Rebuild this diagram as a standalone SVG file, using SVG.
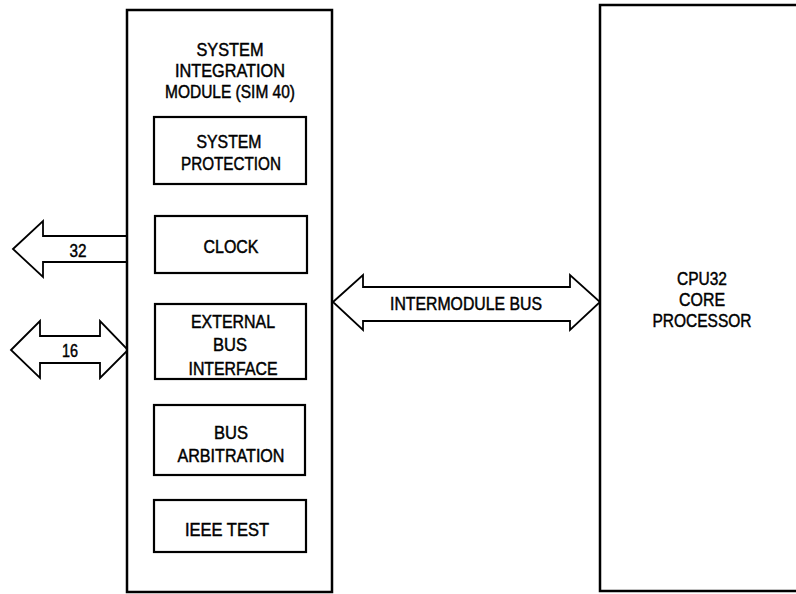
<svg xmlns="http://www.w3.org/2000/svg" width="796" height="594" viewBox="0 0 796 594">
<style>
  .box { fill: #fff; stroke: #000; stroke-width: 2.5; }
  .inner { fill: #fff; stroke: #000; stroke-width: 2.2; }
  .arrow { fill: #fff; stroke: #000; stroke-width: 1.8; stroke-linejoin: miter; }
  text { font-family: "Liberation Sans", Arial, sans-serif; font-size: 17.5px; fill: #000; stroke: #000; stroke-width: 0.45; text-anchor: middle; }
</style>
<rect width="796" height="594" fill="#fff"/>
<g id="connectors">
  <polygon class="arrow" points="13,249 43,221 43,236 127,236 127,262 43,262 43,277"/>
  <polygon class="arrow" points="11,350 40,321 40,336 100,336 100,321 128,350 100,378 100,363 40,363 40,378"/>
  <polygon class="arrow" points="333,302 363,275 363,287 570,287 570,275 600,302 570,330 570,321 363,321 363,330"/>
  <text x="78" y="257" textLength="17" lengthAdjust="spacingAndGlyphs">32</text>
  <text x="70" y="357" textLength="16" lengthAdjust="spacingAndGlyphs">16</text>
  <text x="466" y="310" textLength="152" lengthAdjust="spacingAndGlyphs">INTERMODULE BUS</text>
</g>
<g id="sim">
  <rect class="box" x="127" y="10" width="205" height="582"/>
  <text x="230" y="56" textLength="67" lengthAdjust="spacingAndGlyphs">SYSTEM</text>
  <text x="230" y="77" textLength="110" lengthAdjust="spacingAndGlyphs">INTEGRATION</text>
  <text x="230" y="98" textLength="130" lengthAdjust="spacingAndGlyphs">MODULE (SIM 40)</text>
</g>
<g id="system-protection">
  <rect class="inner" x="154" y="117" width="152" height="67"/>
  <text x="229" y="148" textLength="65" lengthAdjust="spacingAndGlyphs">SYSTEM</text>
  <text x="231" y="170" textLength="100" lengthAdjust="spacingAndGlyphs">PROTECTION</text>
</g>
<g id="clock">
  <rect class="inner" x="155" y="216" width="152" height="57"/>
  <text x="231" y="253" textLength="55" lengthAdjust="spacingAndGlyphs">CLOCK</text>
</g>
<g id="external-bus-interface">
  <rect class="inner" x="155" y="304" width="151" height="75"/>
  <text x="233" y="328" textLength="84" lengthAdjust="spacingAndGlyphs">EXTERNAL</text>
  <text x="230" y="351" textLength="34" lengthAdjust="spacingAndGlyphs">BUS</text>
  <text x="233" y="375" textLength="89" lengthAdjust="spacingAndGlyphs">INTERFACE</text>
</g>
<g id="bus-arbitration">
  <rect class="inner" x="154" y="405" width="151" height="70"/>
  <text x="231" y="439" textLength="34" lengthAdjust="spacingAndGlyphs">BUS</text>
  <text x="231" y="462" textLength="107" lengthAdjust="spacingAndGlyphs">ARBITRATION</text>
</g>
<g id="ieee-test">
  <rect class="inner" x="154" y="500" width="152" height="52"/>
  <text x="227" y="536" textLength="84" lengthAdjust="spacingAndGlyphs">IEEE TEST</text>
</g>
<g id="cpu32">
  <rect class="box" x="600" y="5" width="210" height="586"/>
  <text x="702" y="285" textLength="50" lengthAdjust="spacingAndGlyphs">CPU32</text>
  <text x="702" y="306" textLength="46" lengthAdjust="spacingAndGlyphs">CORE</text>
  <text x="702" y="327" textLength="99" lengthAdjust="spacingAndGlyphs">PROCESSOR</text>
</g>
</svg>
